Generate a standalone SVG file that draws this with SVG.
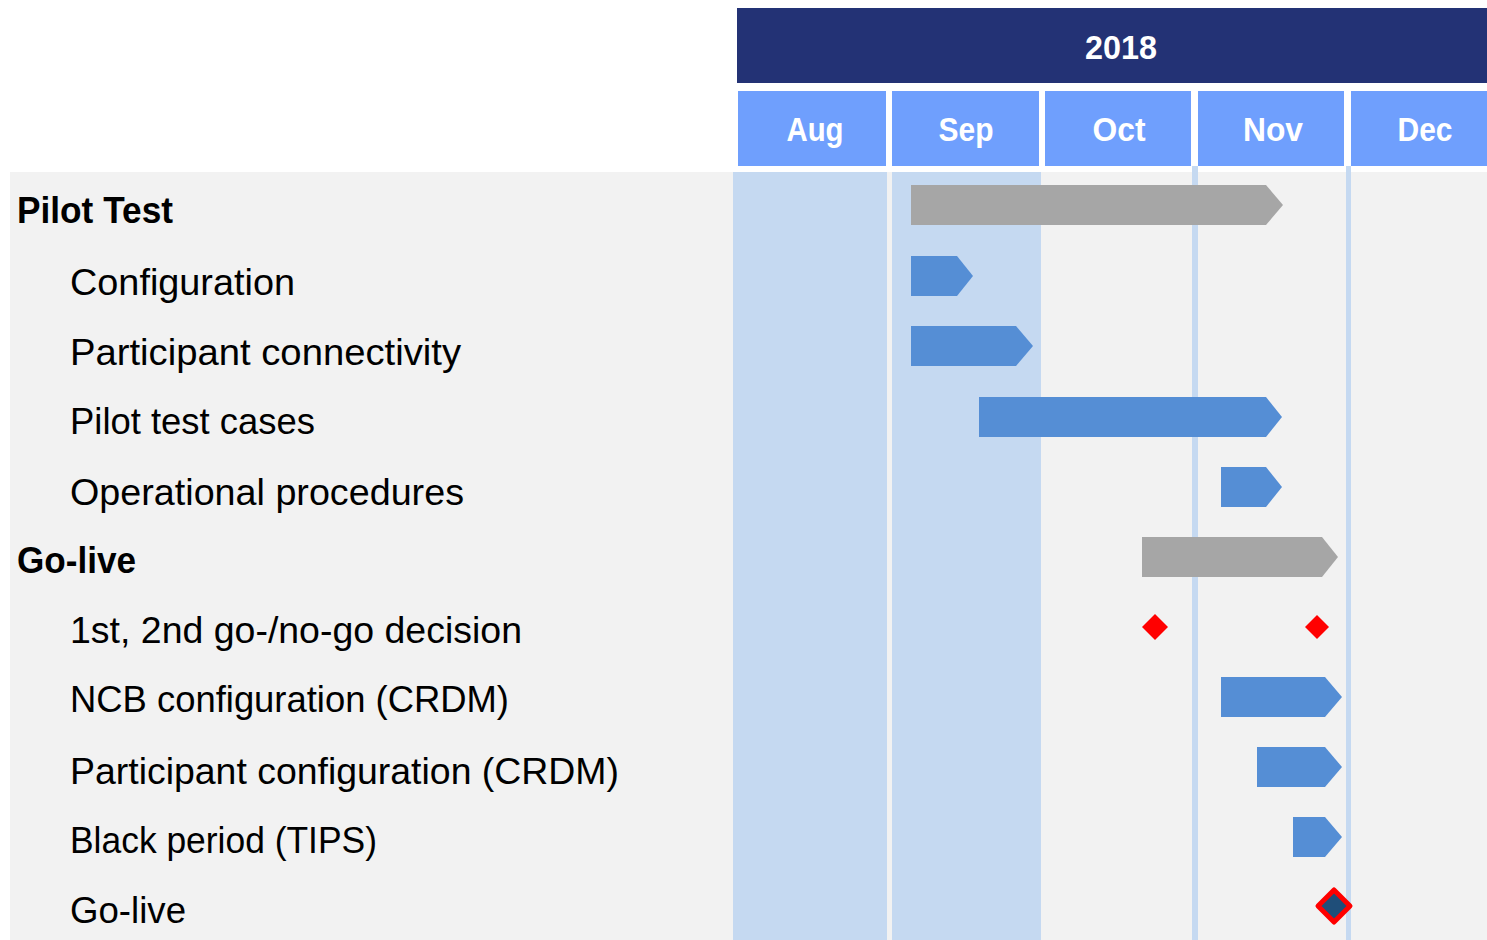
<svg xmlns="http://www.w3.org/2000/svg" width="1487" height="940" viewBox="0 0 1487 940">
<style>
.lbl{font-family:"Liberation Sans",Arial,sans-serif;font-size:37px;fill:#000}
.grp{font-family:"Liberation Sans",Arial,sans-serif;font-size:37px;font-weight:bold;fill:#000}
.hdr{font-family:"Liberation Sans",Arial,sans-serif;font-size:33px;font-weight:bold;fill:#fff;text-anchor:middle}
.month{fill:#6F9FFD}
.shade{fill:#C5D9F1}
.gray{fill:#A6A6A6}
.blue{fill:#558ED5}
.ms{fill:#FF0000}
</style>
<rect x="0" y="0" width="1487" height="940" fill="#FFFFFF"/>
<g id="background">
<rect x="10" y="172" width="1477" height="768" fill="#F2F2F2"/>
<rect class="shade" x="733" y="172" width="154" height="768"/>
<rect class="shade" x="892" y="172" width="149" height="768"/>
<rect class="shade" x="1192" y="166" width="6" height="774"/>
<rect class="shade" x="1346" y="166" width="5" height="774"/>
</g>
<g id="header">
<rect x="737" y="8" width="750" height="75" fill="#233275"/>
<text class="hdr" x="1121" y="59" textLength="72" lengthAdjust="spacingAndGlyphs">2018</text>
<rect class="month" x="738" y="91" width="148" height="75"/>
<rect class="month" x="892" y="91" width="147" height="75"/>
<rect class="month" x="1045" y="91" width="146" height="75"/>
<rect class="month" x="1198" y="91" width="146" height="75"/>
<rect class="month" x="1351" y="91" width="136" height="75"/>
<text class="hdr" x="815" y="141" textLength="57" lengthAdjust="spacingAndGlyphs">Aug</text>
<text class="hdr" x="966" y="141" textLength="55" lengthAdjust="spacingAndGlyphs">Sep</text>
<text class="hdr" x="1119" y="141" textLength="53" lengthAdjust="spacingAndGlyphs">Oct</text>
<text class="hdr" x="1273" y="141" textLength="60" lengthAdjust="spacingAndGlyphs">Nov</text>
<text class="hdr" x="1425" y="141" textLength="55" lengthAdjust="spacingAndGlyphs">Dec</text>
</g>
<g id="labels">
<text class="grp" x="17" y="223" textLength="156" lengthAdjust="spacingAndGlyphs">Pilot Test</text>
<text class="lbl" x="70" y="295" textLength="225" lengthAdjust="spacingAndGlyphs">Configuration</text>
<text class="lbl" x="70" y="365" textLength="391" lengthAdjust="spacingAndGlyphs">Participant connectivity</text>
<text class="lbl" x="70" y="434" textLength="245" lengthAdjust="spacingAndGlyphs">Pilot test cases</text>
<text class="lbl" x="70" y="505" textLength="394" lengthAdjust="spacingAndGlyphs">Operational procedures</text>
<text class="grp" x="17" y="573" textLength="119" lengthAdjust="spacingAndGlyphs">Go-live</text>
<text class="lbl" x="70" y="643" textLength="452" lengthAdjust="spacingAndGlyphs">1st, 2nd go-/no-go decision</text>
<text class="lbl" x="70" y="712" textLength="439" lengthAdjust="spacingAndGlyphs">NCB configuration (CRDM)</text>
<text class="lbl" x="70" y="784" textLength="549" lengthAdjust="spacingAndGlyphs">Participant configuration (CRDM)</text>
<text class="lbl" x="70" y="853" textLength="307" lengthAdjust="spacingAndGlyphs">Black period (TIPS)</text>
<text class="lbl" x="70" y="923" textLength="116" lengthAdjust="spacingAndGlyphs">Go-live</text>
</g>
<g id="bar-pilot-test"><polygon class="gray" points="911,185 1266,185 1283,205 1266,225 911,225"/></g>
<g id="bar-configuration"><polygon class="blue" points="911,256 957,256 973,276 957,296 911,296"/></g>
<g id="bar-participant-connectivity"><polygon class="blue" points="911,326 1016,326 1033,346 1016,366 911,366"/></g>
<g id="bar-pilot-test-cases"><polygon class="blue" points="979,397 1266,397 1282,417 1266,437 979,437"/></g>
<g id="bar-operational-procedures"><polygon class="blue" points="1221,467 1266,467 1282,487 1266,507 1221,507"/></g>
<g id="bar-go-live-group"><polygon class="gray" points="1142,537 1322,537 1338,557 1322,577 1142,577"/></g>
<g id="milestone-go-no-go-1"><polygon class="ms" points="1155,614 1168,627 1155,640 1142,627"/></g>
<g id="milestone-go-no-go-2"><polygon class="ms" points="1317,615 1329,627 1317,639 1305,627"/></g>
<g id="bar-ncb-configuration"><polygon class="blue" points="1221,677 1325,677 1342,697 1325,717 1221,717"/></g>
<g id="bar-participant-configuration"><polygon class="blue" points="1257,747 1325,747 1342,767 1325,787 1257,787"/></g>
<g id="bar-black-period"><polygon class="blue" points="1293,817 1325,817 1342,837 1325,857 1293,857"/></g>
<g id="milestone-go-live"><polygon points="1334,890 1350,906 1334,922 1318,906" fill="#1F4E79" stroke="#FF0000" stroke-width="5" stroke-linejoin="round"/></g>
<g id="connectors"></g>
</svg>
